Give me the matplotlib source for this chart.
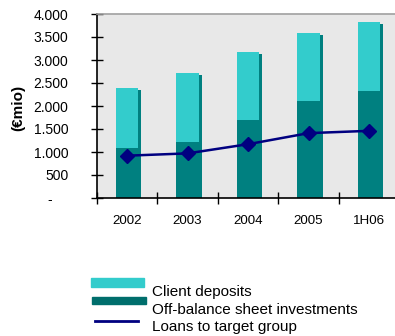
import matplotlib.pyplot as plt
from matplotlib.patches import Rectangle
from matplotlib.lines import Line2D
from matplotlib.ticker import FuncFormatter
import numpy as np

plt.rcParams['font.family'] = ['Liberation Sans', 'DejaVu Sans']

# Values in EUR million
periods = ['2002', '2003', '2004', '2005', '1H06']
off_balance = [1090, 1220, 1700, 2110, 2330]
client_deposits = [1310, 1490, 1470, 1470, 1490]
loans_target = [920, 970, 1170, 1410, 1460]

light = '#33cccc'
dark = '#008080'
navy = '#000080'

fig = plt.figure(figsize=(3.95, 3.36), dpi=100)
ax = fig.add_axes([97 / 395, 1 - 198 / 336, 1 - 97 / 395, 184 / 336])
ax.set_facecolor('#e8e8e8')

x = np.arange(len(periods))
total = np.array(off_balance) + np.array(client_deposits)
w = 0.37

# drop shadow behind each stacked bar
ax.bar(x + 0.05, total - 45, width=w, color=dark, zorder=1)
ax.bar(x, off_balance, width=w, color=dark, zorder=2)
ax.bar(x, client_deposits, bottom=off_balance, width=w, color=light, zorder=2)
ax.plot(x, loans_target, color=navy, lw=1.8, marker='D', ms=7,
        mfc=navy, mec=navy, zorder=3)

ax.set_xlim(-0.5, 4.43)
ax.set_ylim(0, 4000)

# accounting style: zero shown as a dash
ax.set_yticks(np.arange(0, 4001, 500))
ax.yaxis.set_major_formatter(FuncFormatter(
    lambda v, p: '-    ' if v == 0 else f'{int(v):,}'.replace(',', '.')))
ax.tick_params(axis='y', direction='inout', length=8, width=1,
               labelsize=10, pad=16.5)

# ticks between categories, labels centred under bars
ax.set_xticks(np.arange(-0.5, 4.0, 1.0))
ax.set_xticklabels([])
ax.set_xticks(x, minor=True)
ax.set_xticklabels(periods, minor=True)
ax.tick_params(axis='x', which='major', direction='inout', length=9, width=1)
ax.tick_params(axis='x', which='minor', length=0, labelsize=9.6, pad=12)

ax.spines['right'].set_visible(False)
ax.spines['top'].set_color('#a0a0a0')
ax.spines['top'].set_linewidth(1.2)
ax.spines['left'].set_linewidth(1.2)
ax.spines['bottom'].set_linewidth(1.2)

fig.text(18 / 395, 1 - 108 / 336, '(€mio)', rotation=90, fontsize=11,
         fontweight='bold', ha='center', va='center')

# legend
fig.patches.append(Rectangle((91 / 395, 1 - 287 / 336), 53 / 395, 9 / 336,
                             transform=fig.transFigure, color=light))
fig.patches.append(Rectangle((92 / 395, 1 - 304 / 336), 54 / 395, 7 / 336,
                             transform=fig.transFigure, color='#006e6c'))
fig.lines.append(Line2D([95 / 395, 138 / 395], [1 - 321 / 336] * 2,
                        transform=fig.transFigure, color=navy, lw=2))
legend_labels = ['Client deposits', 'Off-balance sheet investments',
                 'Loans to target group']
for i, t in enumerate(legend_labels):
    fig.text(152 / 395, 1 - (292 + 17.5 * i) / 336, t, fontsize=11,
             ha='left', va='center')

fig.savefig('out.png', dpi=100)
